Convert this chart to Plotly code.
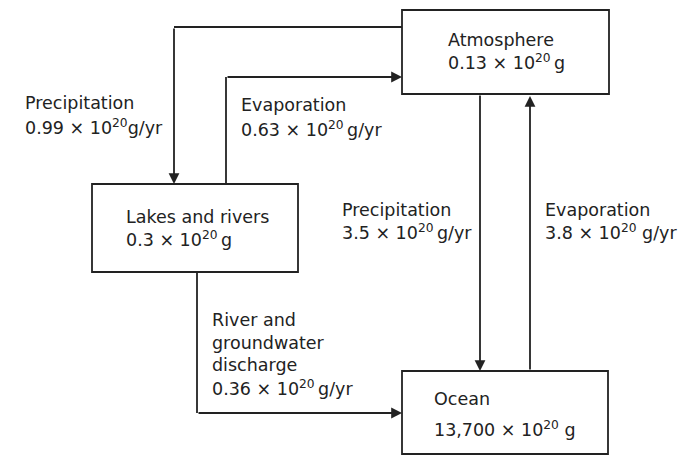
import plotly.graph_objects as go

# ---- data ----
reservoirs = ["Atmosphere", "Lakes and rivers", "Ocean"]
reservoir_mass = ["0.13", "0.3", "13,700"]          # x 10^20 g
flux_names = ["Precipitation", "Evaporation", "Precipitation", "Evaporation",
              "River and|groundwater|discharge"]
flux_values = ["0.99", "0.63", "3.5", "3.8", "0.36"]  # x 10^20 g/yr
flux_unit_gap = ["", "\u2009", "\u2009", " ", "\u2009"]
mass_unit_gap = ["\u2009", "\u2009", " "]

# ---- layout (diagram geometry, pixels) ----
W, H = 686, 455
boxes = [(402, 10, 609, 94), (92, 184, 298, 272), (402, 371, 608, 454)]
box_text = [(446, 40, 62), (124, 217, 239), (432, 399, 429)]
flux_text = [(23, 103, 127), (239, 105, 129), (340, 210, 232),
             (543, 210, 232), (210, 320, 388)]
# polylines: list of points; last segment ends with an arrow
flux_paths = [
    [(402, 27), (174, 27), (174, 184)],
    [(226, 184), (226, 77), (402, 77)],
    [(480, 94), (480, 371)],
    [(530, 371), (530, 96)],
    [(197, 272), (197, 413), (402, 413)],
]

INK = "#222222"
FONT = dict(family="DejaVu Sans", size=17.5, color=INK)
LW = 1.8

fig = go.Figure()
shapes = []
annotations = []

for (x0, y0, x1, y1) in boxes:
    shapes.append(dict(type="rect", xref="x", yref="y", x0=x0, y0=y0, x1=x1, y1=y1,
                       line=dict(color=INK, width=LW), fillcolor="white", layer="below"))

for pts in flux_paths:
    for (xa, ya), (xb, yb) in zip(pts[:-2], pts[1:-1]):
        shapes.append(dict(type="line", xref="x", yref="y", x0=xa, y0=ya, x1=xb, y1=yb,
                           line=dict(color=INK, width=LW)))
    (xa, ya), (xb, yb) = pts[-2], pts[-1]
    annotations.append(dict(x=xb, y=yb, ax=xa, ay=ya, xref="x", yref="y",
                            axref="x", ayref="y", text="", showarrow=True,
                            arrowhead=2, arrowsize=1.2, arrowwidth=LW,
                            arrowcolor=INK, standoff=0, startstandoff=0))


def label(x, y, txt):
    annotations.append(dict(x=x, y=y, xref="x", yref="y", text=txt, showarrow=False,
                            xanchor="left", yanchor="middle", font=FONT))


for name, mass, gap, (tx, ty1, ty2) in zip(reservoirs, reservoir_mass, mass_unit_gap, box_text):
    label(tx, ty1, name)
    label(tx, ty2, f"{mass} × 10<sup>20</sup>{gap}g")

for name, val, gap, (tx, ty1, ty2) in zip(flux_names, flux_values, flux_unit_gap, flux_text):
    lines = name.split("|")
    if len(lines) == 1:
        label(tx, ty1, lines[0])
    else:
        step = (ty2 - ty1) / len(lines)
        for i, ln in enumerate(lines):
            label(tx, ty1 + i * step, ln)
    label(tx, ty2, f"{val} × 10<sup>20</sup>{gap}g/yr")

fig.update_layout(
    width=W, height=H, margin=dict(l=0, r=0, t=0, b=0),
    paper_bgcolor="white", plot_bgcolor="white",
    xaxis=dict(range=[0, W], visible=False, fixedrange=True),
    yaxis=dict(range=[H, 0], visible=False, fixedrange=True),
    shapes=shapes, annotations=annotations, showlegend=False,
)

fig.write_html("out.html", config=dict(displayModeBar=False),
               post_script="document.body.style.margin='0';document.body.style.padding='0';document.body.style.overflow='hidden';")
